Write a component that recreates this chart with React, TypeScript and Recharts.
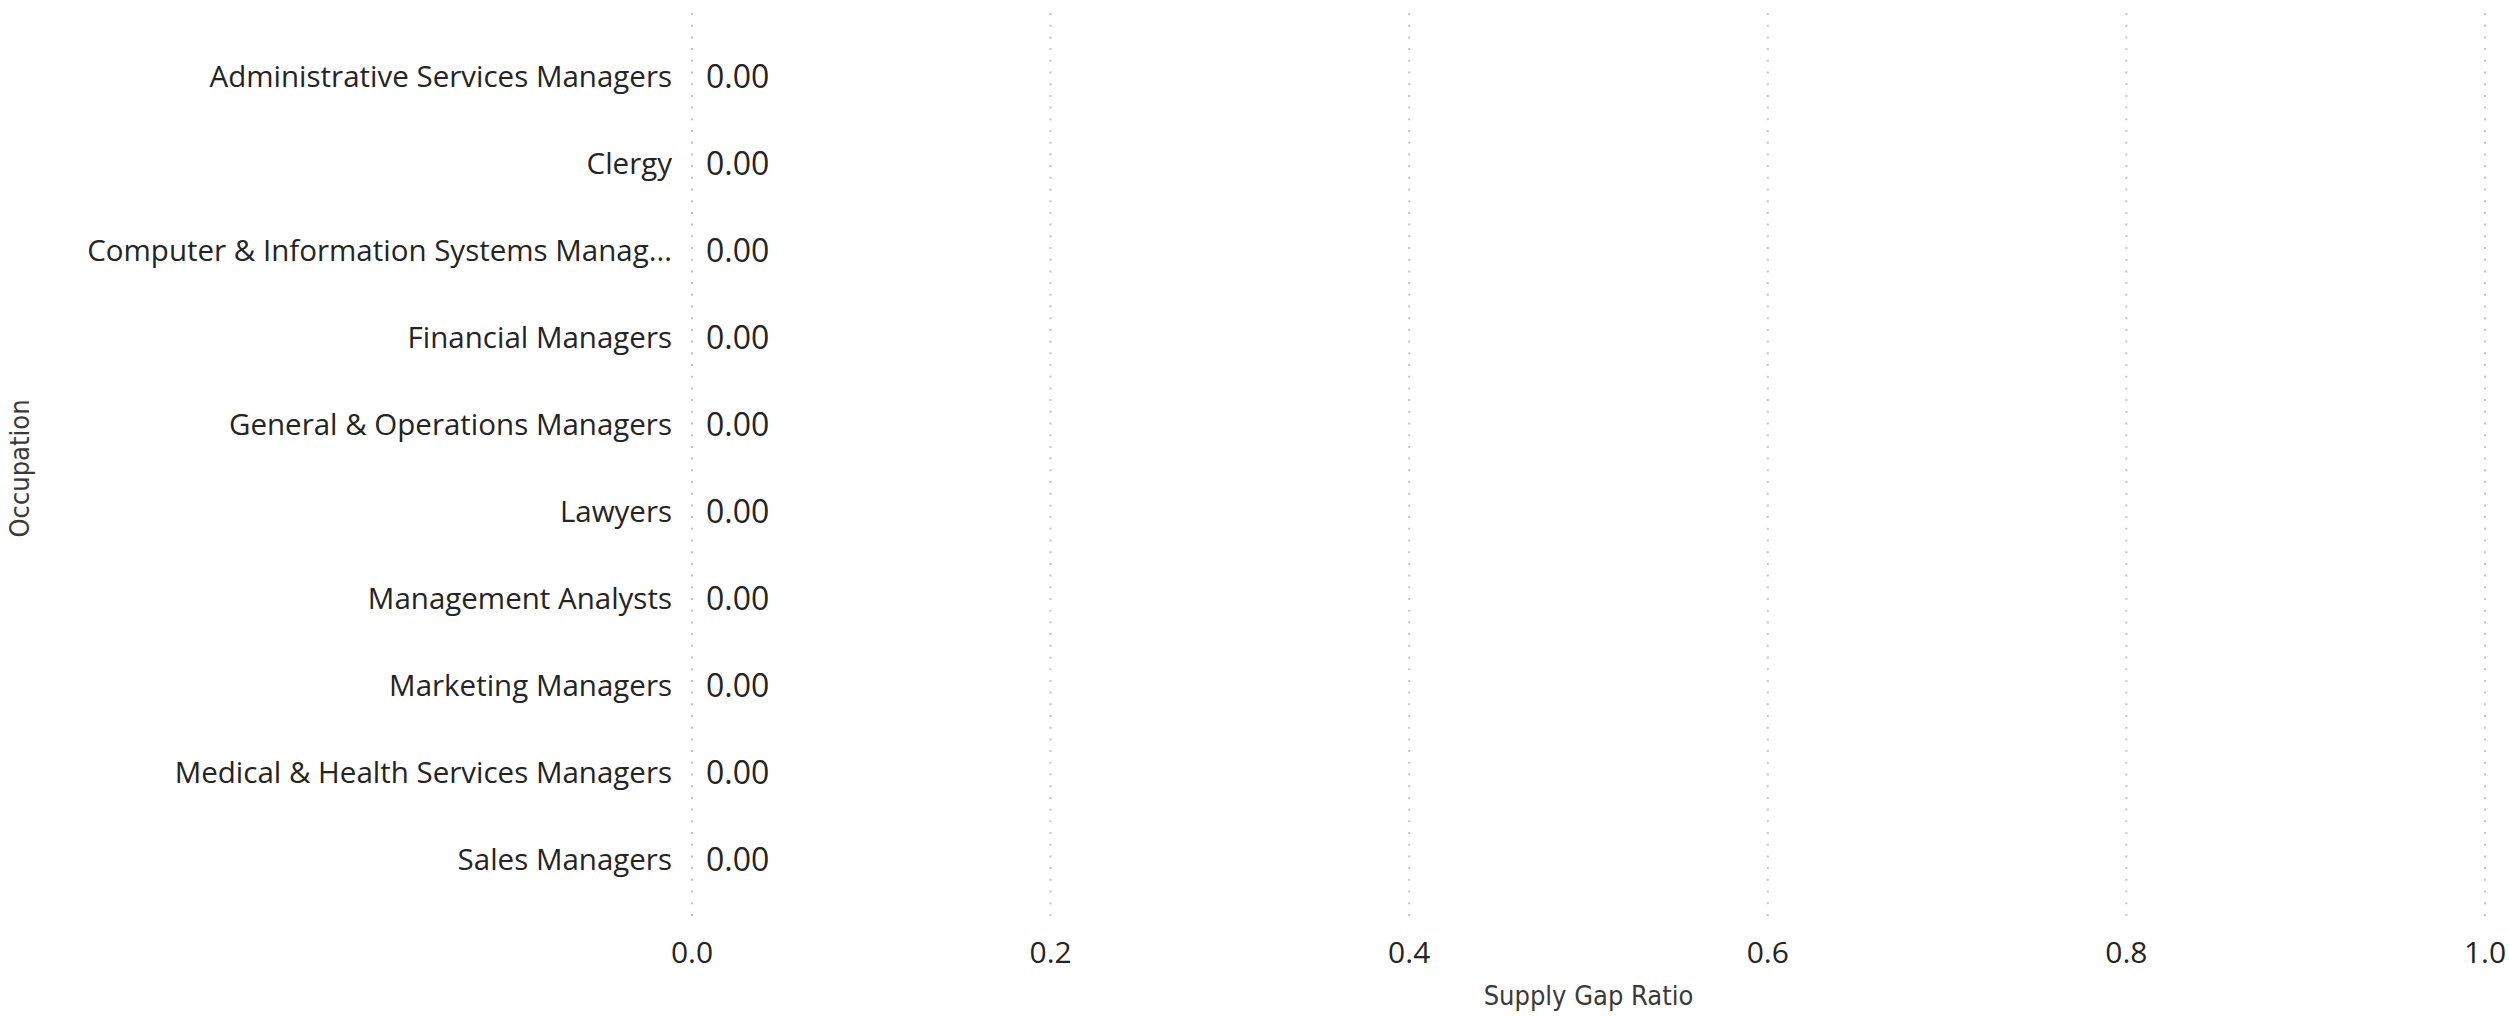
import { BarChart, Bar, XAxis, YAxis, CartesianGrid, LabelList, Label } from "recharts";

const occupations = [
  "Administrative Services Managers",
  "Clergy",
  "Computer & Information Systems Managers",
  "Financial Managers",
  "General & Operations Managers",
  "Lawyers",
  "Management Analysts",
  "Marketing Managers",
  "Medical & Health Services Managers",
  "Sales Managers",
];

const supplyGapRatio = [0, 0, 0, 0, 0, 0, 0, 0, 0, 0];

const xTicks = [0, 0.2, 0.4, 0.6, 0.8, 1.0];

const data = occupations.map((occupation, i) => ({
  occupation,
  ratio: supplyGapRatio[i],
}));

const TEXT = "#252423";
const TITLE = "#3b3a39";
const LABEL_FONT = "'Segoe UI', 'Open Sans', sans-serif";
const TITLE_FONT = "'DejaVu Sans Condensed', 'DejaVu Sans', sans-serif";

// Power BI cuts long category names
const shorten = (s: string) => (s.length > 36 ? s.slice(0, 36) + "..." : s);

const App = () => {
  return (
    <div style={{ position: "absolute", left: 0, top: 0, background: "#fff" }}>
      <BarChart
        width={2509}
        height={1016}
        data={data}
        layout="vertical"
        margin={{ top: 13, right: 24, bottom: 0, left: 0 }}
      >
        <CartesianGrid
          horizontal={false}
          stroke="#c8c6c4"
          strokeWidth={2}
          strokeDasharray="2 9.7"
        />
        <XAxis
          type="number"
          domain={[0, 1]}
          ticks={xTicks}
          height={92}
          axisLine={false}
          tickLine={false}
          tickMargin={12}
          tickFormatter={(v: number) => v.toFixed(1)}
          tick={{ fill: TEXT, fontSize: 30, fontFamily: LABEL_FONT }}
        >
          <Label
            content={({ viewBox }: any) => (
              <text
                x={viewBox.x + viewBox.width / 2}
                y={995}
                textAnchor="middle"
                dominantBaseline="central"
                fill={TITLE}
                fontSize={27}
                fontFamily={TITLE_FONT}
              >
                Supply Gap Ratio
              </text>
            )}
          />
        </XAxis>
        <YAxis
          type="category"
          dataKey="occupation"
          width={692}
          padding={{ top: 20, bottom: 21 }}
          axisLine={false}
          tickLine={false}
          tickMargin={14}
          interval={0}
          tickFormatter={shorten}
          tick={{ fill: TEXT, fontSize: 29.5, fontFamily: LABEL_FONT }}
        >
          <Label
            content={({ viewBox }: any) => (
              <text
                x={19}
                y={viewBox.y + viewBox.height / 2}
                textAnchor="middle"
                dominantBaseline="central"
                transform={`rotate(-90, 19, ${viewBox.y + viewBox.height / 2})`}
                fill={TITLE}
                fontSize={27}
                fontFamily={TITLE_FONT}
              >
                Occupation
              </text>
            )}
          />
        </YAxis>
        {/* zero-width bars are dropped by recharts, so a tiny minPointSize keeps the labels */}
        <Bar dataKey="ratio" fill="#118DFF" minPointSize={0.01} isAnimationActive={false}>
          <LabelList
            dataKey="ratio"
            position="right"
            offset={14}
            formatter={(v: any) => Number(v).toFixed(2)}
            fill={TEXT}
            fontSize={32}
            fontFamily={LABEL_FONT}
          />
        </Bar>
      </BarChart>
    </div>
  );
};

export default App;
